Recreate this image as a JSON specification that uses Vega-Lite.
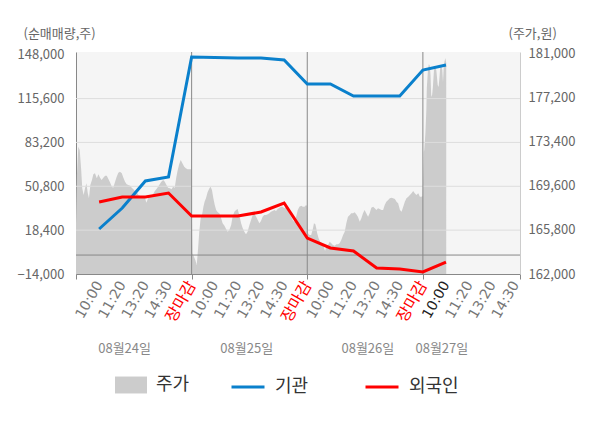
{
  "$schema": "https://vega.github.io/schema/vega-lite/v6.json",
  "width": 444,
  "height": 222,
  "autosize": "none",
  "padding": {"left": 76, "top": 52, "right": 80, "bottom": 154},
  "background": "white",
  "config": {
    "view": {"fill": "#f5f5f5", "stroke": null},
    "font": "Noto Sans CJK KR",
    "axis": {"labelFont": "Noto Sans CJK KR", "titleFont": "Noto Sans CJK KR"},
    "legend": {"labelFont": "Noto Sans CJK KR"}
  },
  "datasets": {
    "price": [
      {"t": 0.00, "p": 166360}, {"t": 0.04, "p": 170510}, {"t": 0.10, "p": 172950}, {"t": 0.16, "p": 172660},
      {"t": 0.22, "p": 171090}, {"t": 0.27, "p": 169370}, {"t": 0.33, "p": 168790}, {"t": 0.39, "p": 169370},
      {"t": 0.45, "p": 169800}, {"t": 0.51, "p": 168940}, {"t": 0.56, "p": 168510}, {"t": 0.62, "p": 169650},
      {"t": 0.69, "p": 170080}, {"t": 0.75, "p": 170570}, {"t": 0.82, "p": 170660}, {"t": 0.90, "p": 170230},
      {"t": 0.97, "p": 170570}, {"t": 1.04, "p": 170280}, {"t": 1.11, "p": 170080}, {"t": 1.18, "p": 170280},
      {"t": 1.26, "p": 170450}, {"t": 1.33, "p": 170450}, {"t": 1.40, "p": 170170}, {"t": 1.47, "p": 169890},
      {"t": 1.55, "p": 169510}, {"t": 1.61, "p": 169420}, {"t": 1.69, "p": 169940}, {"t": 1.76, "p": 170370},
      {"t": 1.83, "p": 170710}, {"t": 1.90, "p": 170800}, {"t": 1.98, "p": 170660}, {"t": 2.05, "p": 170280},
      {"t": 2.12, "p": 169940}, {"t": 2.19, "p": 169710}, {"t": 2.26, "p": 169650}, {"t": 2.34, "p": 169590},
      {"t": 2.41, "p": 169420}, {"t": 2.48, "p": 169280}, {"t": 2.55, "p": 169140}, {"t": 2.63, "p": 169030},
      {"t": 2.70, "p": 168790}, {"t": 2.77, "p": 168710}, {"t": 2.84, "p": 168710}, {"t": 2.91, "p": 168710},
      {"t": 2.99, "p": 168510}, {"t": 3.04, "p": 168130}, {"t": 3.12, "p": 168510}, {"t": 3.19, "p": 168650},
      {"t": 3.26, "p": 168710}, {"t": 3.33, "p": 168850}, {"t": 3.41, "p": 169140}, {"t": 3.48, "p": 169310},
      {"t": 3.55, "p": 169510}, {"t": 3.62, "p": 169710}, {"t": 3.69, "p": 169940}, {"t": 3.77, "p": 170080},
      {"t": 3.84, "p": 169940}, {"t": 3.91, "p": 169650}, {"t": 3.98, "p": 169420}, {"t": 4.06, "p": 169370},
      {"t": 4.13, "p": 169280}, {"t": 4.20, "p": 169510}, {"t": 4.27, "p": 169420}, {"t": 4.33, "p": 170230},
      {"t": 4.39, "p": 170860}, {"t": 4.46, "p": 171430}, {"t": 4.53, "p": 171800}, {"t": 4.60, "p": 171520},
      {"t": 4.68, "p": 171230}, {"t": 4.75, "p": 171090}, {"t": 4.82, "p": 171000}, {"t": 4.98, "p": 171000},
      {"t": 5.04, "p": 163780}, {"t": 5.10, "p": 163490}, {"t": 5.16, "p": 163200}, {"t": 5.22, "p": 162770},
      {"t": 5.28, "p": 164210}, {"t": 5.33, "p": 165640}, {"t": 5.39, "p": 166790}, {"t": 5.45, "p": 167070},
      {"t": 5.51, "p": 167790}, {"t": 5.56, "p": 168220}, {"t": 5.62, "p": 168510}, {"t": 5.69, "p": 169030},
      {"t": 5.77, "p": 169370}, {"t": 5.82, "p": 169510}, {"t": 5.88, "p": 169220}, {"t": 5.94, "p": 168510},
      {"t": 6.00, "p": 167930}, {"t": 6.06, "p": 167500}, {"t": 6.13, "p": 167310}, {"t": 6.20, "p": 167220},
      {"t": 6.27, "p": 166840}, {"t": 6.34, "p": 166360}, {"t": 6.42, "p": 166150}, {"t": 6.49, "p": 165870},
      {"t": 6.56, "p": 165640}, {"t": 6.63, "p": 165780}, {"t": 6.71, "p": 166210}, {"t": 6.77, "p": 166930},
      {"t": 6.85, "p": 167360}, {"t": 6.92, "p": 167500}, {"t": 6.99, "p": 167590}, {"t": 7.06, "p": 167070},
      {"t": 7.14, "p": 166360}, {"t": 7.21, "p": 165930}, {"t": 7.28, "p": 165640}, {"t": 7.35, "p": 165410},
      {"t": 7.42, "p": 165640}, {"t": 7.50, "p": 166210}, {"t": 7.57, "p": 166640}, {"t": 7.64, "p": 167070},
      {"t": 7.71, "p": 167220}, {"t": 7.79, "p": 166930}, {"t": 7.86, "p": 166640}, {"t": 7.93, "p": 166360},
      {"t": 8.00, "p": 166560}, {"t": 8.07, "p": 166930}, {"t": 8.14, "p": 167070}, {"t": 8.22, "p": 167070},
      {"t": 8.29, "p": 167130}, {"t": 8.36, "p": 167220}, {"t": 8.43, "p": 167360}, {"t": 8.50, "p": 167420},
      {"t": 8.58, "p": 167500}, {"t": 8.65, "p": 167420}, {"t": 8.72, "p": 167590}, {"t": 8.80, "p": 167700},
      {"t": 8.87, "p": 167790}, {"t": 8.94, "p": 167790}, {"t": 9.01, "p": 167650}, {"t": 9.09, "p": 167790},
      {"t": 9.16, "p": 167500}, {"t": 9.23, "p": 167220}, {"t": 9.30, "p": 166930}, {"t": 9.37, "p": 166640},
      {"t": 9.45, "p": 166450}, {"t": 9.52, "p": 166930}, {"t": 9.59, "p": 167500}, {"t": 9.66, "p": 167790},
      {"t": 9.74, "p": 167870}, {"t": 9.81, "p": 167790}, {"t": 9.88, "p": 167790}, {"t": 9.95, "p": 167930},
      {"t": 9.99, "p": 167850},
      {"t": 10.03, "p": 165500}, {"t": 10.10, "p": 165350}, {"t": 10.17, "p": 165350}, {"t": 10.25, "p": 165930},
      {"t": 10.29, "p": 166360}, {"t": 10.35, "p": 166270}, {"t": 10.39, "p": 165930}, {"t": 10.43, "p": 165500},
      {"t": 10.49, "p": 165070}, {"t": 10.56, "p": 164780}, {"t": 10.64, "p": 164640}, {"t": 10.71, "p": 164350},
      {"t": 10.77, "p": 163980}, {"t": 10.82, "p": 164350}, {"t": 10.90, "p": 164490}, {"t": 10.97, "p": 164780},
      {"t": 11.04, "p": 164640}, {"t": 11.11, "p": 164490}, {"t": 11.19, "p": 164430}, {"t": 11.26, "p": 164550},
      {"t": 11.33, "p": 164550}, {"t": 11.40, "p": 164640}, {"t": 11.47, "p": 164920}, {"t": 11.55, "p": 165350},
      {"t": 11.62, "p": 165640}, {"t": 11.69, "p": 166360}, {"t": 11.76, "p": 166930}, {"t": 11.84, "p": 167070},
      {"t": 11.90, "p": 167220}, {"t": 11.98, "p": 167220}, {"t": 12.05, "p": 167310}, {"t": 12.12, "p": 167130},
      {"t": 12.19, "p": 166930}, {"t": 12.27, "p": 166500}, {"t": 12.34, "p": 166790}, {"t": 12.41, "p": 167220},
      {"t": 12.48, "p": 167500}, {"t": 12.55, "p": 167220}, {"t": 12.63, "p": 166930}, {"t": 12.70, "p": 167220},
      {"t": 12.77, "p": 167700}, {"t": 12.85, "p": 167790}, {"t": 12.92, "p": 167650}, {"t": 12.99, "p": 167500},
      {"t": 13.06, "p": 167650}, {"t": 13.13, "p": 167590}, {"t": 13.21, "p": 167500}, {"t": 13.28, "p": 167500},
      {"t": 13.35, "p": 167930}, {"t": 13.42, "p": 168220}, {"t": 13.50, "p": 168360}, {"t": 13.57, "p": 168510},
      {"t": 13.64, "p": 168560}, {"t": 13.71, "p": 168510}, {"t": 13.79, "p": 168450}, {"t": 13.86, "p": 168220},
      {"t": 13.93, "p": 168080}, {"t": 14.01, "p": 167500}, {"t": 14.08, "p": 167360}, {"t": 14.15, "p": 167790},
      {"t": 14.22, "p": 168220}, {"t": 14.29, "p": 168510}, {"t": 14.37, "p": 168650}, {"t": 14.44, "p": 168790},
      {"t": 14.51, "p": 168940}, {"t": 14.58, "p": 169140}, {"t": 14.65, "p": 168940}, {"t": 14.72, "p": 168790},
      {"t": 14.80, "p": 168940}, {"t": 14.87, "p": 168650}, {"t": 14.94, "p": 168650}, {"t": 14.99, "p": 168710},
      {"t": 15.04, "p": 172490}, {"t": 15.06, "p": 172660}, {"t": 15.11, "p": 174130}, {"t": 15.15, "p": 176100},
      {"t": 15.17, "p": 178000}, {"t": 15.22, "p": 179540}, {"t": 15.26, "p": 180060}, {"t": 15.30, "p": 179890},
      {"t": 15.33, "p": 179110}, {"t": 15.36, "p": 177390}, {"t": 15.39, "p": 177220}, {"t": 15.43, "p": 178000},
      {"t": 15.48, "p": 179540}, {"t": 15.52, "p": 179800}, {"t": 15.58, "p": 179540}, {"t": 15.61, "p": 178940},
      {"t": 15.64, "p": 178250}, {"t": 15.68, "p": 178080}, {"t": 15.72, "p": 178940}, {"t": 15.75, "p": 179800},
      {"t": 15.79, "p": 179970}, {"t": 15.84, "p": 179540}, {"t": 15.87, "p": 178510}, {"t": 15.90, "p": 179720},
      {"t": 15.93, "p": 180230}, {"t": 15.97, "p": 180580}, {"t": 16.01, "p": 180150}
    ],
    "net": [
      {"t": 1, "s": "기관", "v": 19240}, {"t": 2, "s": "기관", "v": 34750}, {"t": 3, "s": "기관", "v": 54700},
      {"t": 4, "s": "기관", "v": 57650}, {"t": 5, "s": "기관", "v": 146300}, {"t": 6, "s": "기관", "v": 145930},
      {"t": 7, "s": "기관", "v": 145560}, {"t": 8, "s": "기관", "v": 145560}, {"t": 9, "s": "기관", "v": 144080},
      {"t": 10, "s": "기관", "v": 126350}, {"t": 11, "s": "기관", "v": 126350}, {"t": 12, "s": "기관", "v": 117490},
      {"t": 13, "s": "기관", "v": 117490}, {"t": 14, "s": "기관", "v": 117490}, {"t": 15, "s": "기관", "v": 136700},
      {"t": 16, "s": "기관", "v": 140390},
      {"t": 1, "s": "외국인", "v": 39190}, {"t": 2, "s": "외국인", "v": 42880}, {"t": 3, "s": "외국인", "v": 42880},
      {"t": 4, "s": "외국인", "v": 45840}, {"t": 5, "s": "외국인", "v": 28850}, {"t": 6, "s": "외국인", "v": 28850},
      {"t": 7, "s": "외국인", "v": 28850}, {"t": 8, "s": "외국인", "v": 31800}, {"t": 9, "s": "외국인", "v": 38450},
      {"t": 10, "s": "외국인", "v": 12590}, {"t": 11, "s": "외국인", "v": 5210}, {"t": 12, "s": "외국인", "v": 2990},
      {"t": 13, "s": "외국인", "v": -9570}, {"t": 14, "s": "외국인", "v": -10310}, {"t": 15, "s": "외국인", "v": -12520},
      {"t": 16, "s": "외국인", "v": -5140}
    ],
    "hgrid": [{"v": 18400}, {"v": 50800}, {"v": 83200}, {"v": 115600}],
    "vgrid": [{"t": 5}, {"t": 10}, {"t": 15}]
  },
  "layer": [
    {
      "data": {"name": "price"},
      "mark": {"type": "area", "clip": true},
      "encoding": {
        "x": {
          "field": "t",
          "type": "quantitative",
          "scale": {"domain": [0, 19.2], "nice": false, "zero": false},
          "axis": {
            "values": [0, 1, 2, 3, 4, 5, 6, 7, 8, 9, 10, 11, 12, 13, 14, 15, 16, 17, 18, 19, 19.2],
            "labelExpr": "datum.value > 19 ? '' : ['','10:00','11:20','13:20','14:30','장마감','10:00','11:20','13:20','14:30','장마감','10:00','11:20','13:20','14:30','장마감','10:00','11:20','13:20','14:30'][datum.value]",
            "labelFont": "DejaVu Sans, Noto Sans CJK KR",
            "labelAngle": -60,
            "labelAlign": "right",
            "labelBaseline": "middle",
            "labelFontSize": {
              "condition": {"test": "datum.value % 5 == 0", "value": 16},
              "value": 14
            },
            "labelPadding": 3,
            "labelColor": {
              "condition": [
                {"test": "datum.value % 5 == 0", "value": "#ff0000"},
                {"test": "datum.value == 16", "value": "#222222"}
              ],
              "value": "#777777"
            },
            "tickColor": {
              "condition": {"test": "datum.value % 5 == 0 || datum.value > 19", "value": "#888888"},
              "value": "transparent"
            },
            "tickSize": 5,
            "domainColor": "#888888",
            "grid": false,
            "title": null,
            "labelOverlap": false,
            "labelFlush": false,
            "labelBound": false
          }
        },
        "y": {
          "field": "p",
          "type": "quantitative",
          "scale": {"domain": [162000, 181092], "nice": false, "zero": false},
          "axis": {
            "orient": "right",
            "values": [162000, 165800, 169600, 173400, 177200, 181000],
            "format": ",d",
            "ticks": false,
            "grid": false,
            "domainColor": "#cccccc",
            "labelColor": "#666666",
            "labelFontSize": 13,
            "labelPadding": 8,
            "title": "(주가,원)",
            "titleAngle": 0,
            "titleAlign": "left",
            "titleBaseline": "middle",
            "titleX": -12,
            "titleY": -19,
            "titleFontSize": 13,
            "titleFontWeight": "normal",
            "titleColor": "#666666"
          }
        },
        "fill": {
          "datum": "주가",
          "scale": {"domain": ["주가"], "range": ["#cccccc"]},
          "legend": {
            "orient": "none",
            "legendX": 39,
            "legendY": 317,
            "title": null,
            "symbolType": "M-1,-0.53H1V0.53H-1Z",
            "symbolSize": 1024,
            "symbolStrokeWidth": 0,
            "labelFontSize": 18,
            "labelColor": "#333333",
            "labelOffset": 9
          }
        }
      }
    },
    {
      "layer": [
        {
          "data": {"name": "hgrid"},
          "mark": {"type": "rule", "color": "#dddddd", "strokeWidth": 1},
          "encoding": {
            "y": {"field": "v", "type": "quantitative", "scale": {"domain": [-14000, 150000], "nice": false, "zero": false}}
          }
        },
        {
          "data": {"name": "vgrid"},
          "mark": {"type": "rule", "color": "#888888", "strokeWidth": 1},
          "encoding": {
            "x": {"field": "t", "type": "quantitative", "scale": {"domain": [0, 19.2], "nice": false, "zero": false}}
          }
        },
        {
          "data": {"values": [{}]},
          "mark": {"type": "rule", "color": "#888888", "strokeWidth": 1},
          "encoding": {
            "y": {"datum": 0, "type": "quantitative"}
          }
        },
        {
          "data": {"name": "net"},
          "mark": {"type": "line", "strokeWidth": 3},
          "encoding": {
            "x": {
              "field": "t",
              "type": "quantitative",
              "scale": {"domain": [0, 19.2], "nice": false, "zero": false},
              "axis": {
                "orient": "bottom",
                "offset": 68,
                "values": [2.08, 7.36, 12.6, 15.8],
                "labelExpr": "datum.value < 5 ? '08월24일' : datum.value < 10 ? '08월25일' : datum.value < 15 ? '08월26일' : '08월27일'",
                "domain": false,
                "ticks": false,
                "grid": false,
                "labelPadding": 0,
                "labelAngle": 0,
                "labelAlign": "center",
                "labelBaseline": "top",
                "labelFontSize": 13,
                "labelColor": "#888888",
                "title": null,
                "labelOverlap": false,
                "labelFlush": false
              }
            },
            "y": {
              "field": "v",
              "type": "quantitative",
              "scale": {"domain": [-14000, 150000], "nice": false, "zero": false},
              "axis": {
                "orient": "left",
                "values": [-14000, 18400, 50800, 83200, 115600, 148000],
                "format": ",d",
                "ticks": false,
                "grid": false,
                "domainColor": "#888888",
                "labelColor": "#666666",
                "labelFontSize": 13,
                "labelPadding": 12,
                "title": "(순매매량,주)",
                "titleAngle": 0,
                "titleAlign": "left",
                "titleBaseline": "middle",
                "titleX": -53,
                "titleY": -19,
                "titleFontSize": 13,
                "titleFontWeight": "normal",
                "titleColor": "#666666"
              }
            },
            "stroke": {
              "field": "s",
              "type": "nominal",
              "scale": {"domain": ["기관", "외국인"], "range": ["#0a80cc", "#ff0000"]},
              "legend": {
                "orient": "none",
                "legendX": 154,
                "legendY": 317,
                "direction": "horizontal",
                "title": null,
                "symbolType": "stroke",
                "symbolSize": 1089,
                "symbolStrokeWidth": 3,
                "labelFontSize": 18,
                "labelColor": "#333333",
                "labelOffset": 9,
                "columnPadding": 50
              }
            }
          }
        }
      ]
    }
  ],
  "resolve": {"scale": {"x": "independent", "y": "independent"}}
}
